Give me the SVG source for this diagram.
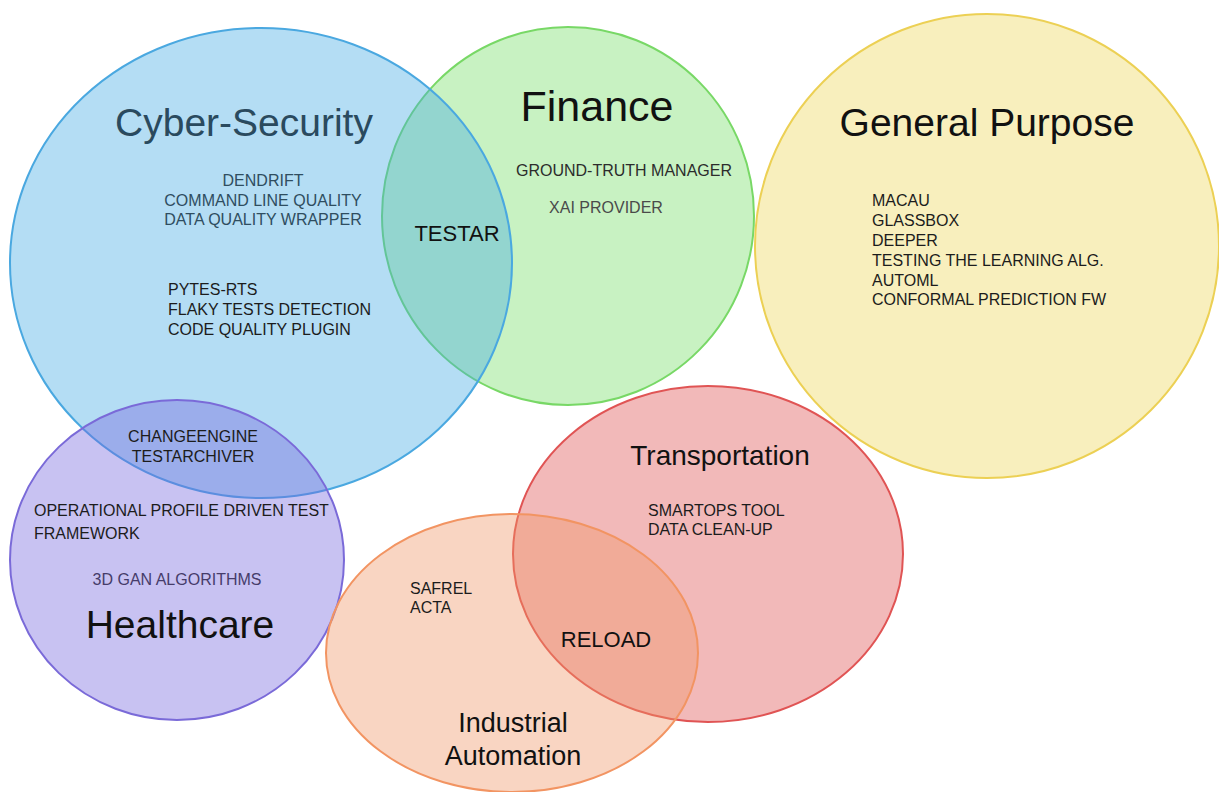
<svg xmlns="http://www.w3.org/2000/svg" width="1219" height="792" viewBox="0 0 1219 792">
  <style>
    .area { fill-opacity: 0.4; stroke-width: 2; }
    .title { font-family: "Liberation Sans", Arial, sans-serif; fill: #111; }
    .item { font-family: "Liberation Sans", Arial, sans-serif; font-size: 16px; fill: #1c1c1c; }
  </style>
  <rect width="1219" height="792" fill="#ffffff"/>

  <!-- domain areas (translucent, later ones drawn over earlier ones) -->
  <g id="finance">
    <ellipse class="area" cx="568" cy="216" rx="186" ry="189" fill="#75de66" stroke="#78d866"/>
  </g>
  <g id="cyber-security">
    <ellipse class="area" cx="261" cy="263" rx="251" ry="235" fill="#43aae3" stroke="#4aa8e0"/>
  </g>
  <g id="general-purpose">
    <ellipse class="area" cx="987" cy="246" rx="232" ry="232" fill="#edd75a" stroke="#ecd054"/>
  </g>
  <g id="healthcare">
    <ellipse class="area" cx="177" cy="560" rx="167" ry="160" fill="#7566de" stroke="#7a6ad8"/>
  </g>
  <g id="transportation">
    <ellipse class="area" cx="708" cy="554" rx="195" ry="168" fill="#de5050" stroke="#e05454"/>
  </g>
  <g id="industrial-automation">
    <ellipse class="area" cx="512" cy="653" rx="186" ry="139" fill="#f09666" stroke="#f29462"/>
  </g>

  <!-- labels -->
  <g id="cyber-security-labels">
    <text class="title" x="244" y="136" font-size="39" text-anchor="middle" style="fill:#2a4a5e">Cyber-Security</text>
    <g class="item" text-anchor="middle" style="fill:#2f4d60">
      <text x="263" y="186">DENDRIFT</text>
      <text x="263" y="206">COMMAND LINE QUALITY</text>
      <text x="263" y="225">DATA QUALITY WRAPPER</text>
    </g>
    <g class="item">
      <text x="168" y="295">PYTES-RTS</text>
      <text x="168" y="315">FLAKY TESTS DETECTION</text>
      <text x="168" y="335">CODE QUALITY PLUGIN</text>
    </g>
  </g>
  <g id="finance-labels">
    <text class="title" x="597" y="121" font-size="43" text-anchor="middle">Finance</text>
    <text class="item" x="624" y="176" text-anchor="middle" style="fill:#2c2c2c">GROUND-TRUTH MANAGER</text>
    <text class="item" x="606" y="213" text-anchor="middle" style="fill:#4a4a4a">XAI PROVIDER</text>
    <text class="title" x="457" y="241" font-size="22" text-anchor="middle">TESTAR</text>
  </g>
  <g id="general-purpose-labels">
    <text class="title" x="987" y="136" font-size="39" text-anchor="middle">General Purpose</text>
    <g class="item">
      <text x="872" y="206">MACAU</text>
      <text x="872" y="226">GLASSBOX</text>
      <text x="872" y="246">DEEPER</text>
      <text x="872" y="266">TESTING THE LEARNING ALG.</text>
      <text x="872" y="286">AUTOML</text>
      <text x="872" y="305">CONFORMAL PREDICTION FW</text>
    </g>
  </g>
  <g id="healthcare-labels">
    <g class="item" text-anchor="middle">
      <text x="193" y="442">CHANGEENGINE</text>
      <text x="193" y="462">TESTARCHIVER</text>
    </g>
    <g class="item">
      <text x="34" y="516">OPERATIONAL PROFILE DRIVEN TEST</text>
      <text x="34" y="539">FRAMEWORK</text>
    </g>
    <text class="item" x="177" y="585" text-anchor="middle" style="fill:#463c6a">3D GAN ALGORITHMS</text>
    <text class="title" x="180" y="638" font-size="39" text-anchor="middle">Healthcare</text>
  </g>
  <g id="transportation-labels">
    <text class="title" x="720" y="465" font-size="28" text-anchor="middle">Transportation</text>
    <g class="item">
      <text x="648" y="516">SMARTOPS TOOL</text>
      <text x="648" y="535">DATA CLEAN-UP</text>
    </g>
    <text class="title" x="606" y="647" font-size="22" text-anchor="middle">RELOAD</text>
  </g>
  <g id="industrial-automation-labels">
    <g class="item">
      <text x="410" y="594">SAFREL</text>
      <text x="410" y="613">ACTA</text>
    </g>
    <g class="title" font-size="27" text-anchor="middle">
      <text x="513" y="732">Industrial</text>
      <text x="513" y="765">Automation</text>
    </g>
  </g>
</svg>
